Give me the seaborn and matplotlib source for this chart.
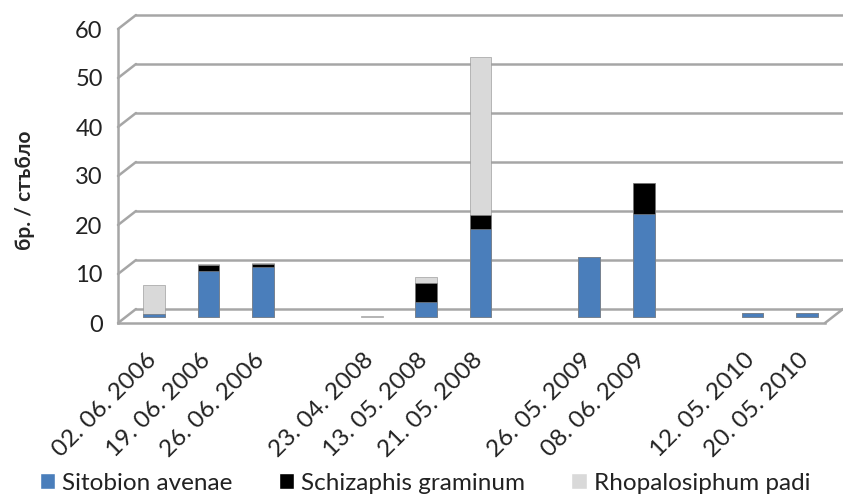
import numpy as np
import pandas as pd
import matplotlib
matplotlib.use("Agg")
import matplotlib.pyplot as plt
import matplotlib.transforms as mtransforms
from matplotlib.lines import Line2D
from matplotlib.patches import Patch
import seaborn as sns

dates = ["02. 06. 2006", "19. 06. 2006", "26. 06. 2006", " ",
         "23. 04. 2008", "13. 05. 2008", "21. 05. 2008", "  ",
         "26. 05. 2009", "08. 06. 2009", "   ",
         "12. 05. 2010", "20. 05. 2010"]
sitobion = [0.5, 9.3, 10.2, 0, 0.0, 2.9, 17.8, 0, 12.2, 20.9, 0, 0.7, 0.8]
schizaphis = [0.0, 1.2, 0.6, 0, 0.0, 4.0, 2.9, 0, 0.0, 6.3, 0, 0.0, 0.0]
rhopalosiphum = [6.0, 0.3, 0.2, 0, 0.1, 1.1, 32.2, 0, 0.0, 0.0, 0, 0.0, 0.0]
series = ["Sitobion avenae", "Schizaphis graminum", "Rhopalosiphum padi"]
colors = ["#4A7EBB", "#000000", "#D9D9D9"]

df = pd.DataFrame({"date": dates, "s1": sitobion, "s2": schizaphis, "s3": rhopalosiphum})
df["c1"] = df["s1"]
df["c2"] = df["s1"] + df["s2"]
df["c3"] = df["c2"] + df["s3"]

sns.set_style("white")
plt.rcParams["font.family"] = ["Lato", "DejaVu Sans"]
grid_c = "#a6a6a6"

fig, ax = plt.subplots(figsize=(8.43, 4.97), dpi=100)
fig.subplots_adjust(left=118 / 843, right=825 / 843, top=1 - 29 / 497, bottom=1 - 323 / 497)

# bars sit half way into the (fake) 3d depth
mid = mtransforms.ScaledTranslation(0.09, 0.065, fig.dpi_scale_trans)
back = mtransforms.ScaledTranslation(0.18, 0.14, fig.dpi_scale_trans)

for col, c in zip(["c3", "c2", "c1"], colors[::-1]):
    sns.barplot(data=df, x="date", y=col, order=dates, color=c, width=0.4,
                edgecolor="#8c8c8c", linewidth=0.4, saturation=1, ax=ax)
for p in ax.patches:
    p.set_transform(ax.transData + mid)
    p.set_clip_on(False)
    if p.get_height() <= 0:
        p.set_visible(False)

ax.set_ylim(0, 60)
ax.set_xlim(-0.5, len(dates) - 0.5)
ax.set_yticks(range(0, 61, 10))

# back wall gridlines + diagonal connectors
for v in range(0, 61, 10):
    ax.plot([0, 1], [v, v], transform=ax.get_yaxis_transform() + back,
            color=grid_c, lw=1.8, clip_on=False, zorder=0)
fig.canvas.draw()
inv = fig.transFigure.inverted()
for v in range(0, 61, 10):
    p0 = ax.transData.transform((-0.5, v))
    q0, q1 = inv.transform(p0), inv.transform(p0 + np.array([18, 14]))
    fig.add_artist(Line2D([q0[0], q1[0]], [q0[1], q1[1]], color=grid_c, lw=1.8))
p0 = ax.transAxes.transform((1, 0))
q0, q1 = inv.transform(p0), inv.transform(p0 + np.array([18, 14]))
fig.add_artist(Line2D([q0[0], q1[0]], [q0[1], q1[1]], color=grid_c, lw=1.8))

for s in ["top", "right"]:
    ax.spines[s].set_visible(False)
for s in ["left", "bottom"]:
    ax.spines[s].set_color(grid_c)
    ax.spines[s].set_linewidth(1.8)
ax.set_xticks(np.arange(len(dates) + 1) - 0.5, minor=True)
ax.tick_params(axis="x", which="major", length=0, pad=19)
ax.tick_params(axis="x", which="minor", length=6, color=grid_c, width=1.8)
ax.tick_params(axis="y", length=6, color=grid_c, width=1.8, labelsize=17, pad=5,
               labelcolor="#222222")
ax.set_xlabel("")
ax.set_ylabel("бр. / стъбло", fontsize=15, fontweight="bold")
ax.yaxis.set_label_coords(-0.118, 0.45)
plt.setp(ax.get_xticklabels(), rotation=45, ha="right", rotation_mode="anchor",
         fontsize=17.5, color="#222222")

handles = [Patch(facecolor=c, label=l) for c, l in zip(colors, series)]
fig.legend(handles=handles, loc="center left", ncol=3, frameon=False, fontsize=17.5,
           bbox_to_anchor=(40 / 843, 1 - 483 / 497), borderpad=0, borderaxespad=0,
           handlelength=0.62, handleheight=0.62, columnspacing=1.9, handletextpad=0.3,
           labelcolor="#222222")

fig.savefig("out.png", dpi=100)
